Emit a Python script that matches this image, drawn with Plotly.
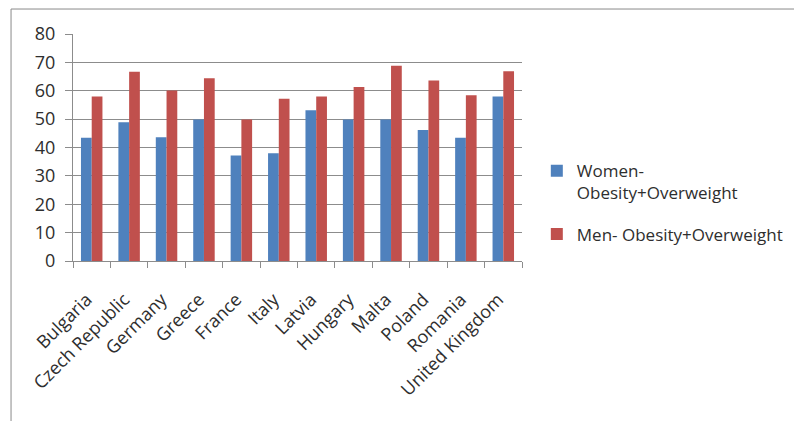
import plotly.graph_objects as go

countries = ["Bulgaria", "Czech Republic", "Germany", "Greece", "France", "Italy",
             "Latvia", "Hungary", "Malta", "Poland", "Romania", "United Kingdom"]
women = [43.4, 48.9, 43.6, 49.9, 37.2, 38.0, 53.1, 49.9, 49.9, 46.2, 43.4, 58.0]
men = [58.0, 66.7, 60.1, 64.4, 49.9, 57.2, 58.0, 61.3, 68.8, 63.6, 58.4, 66.9]

FONT = "Open Sans"
TEXT = "#2e2e2e"
GRID = "#8c8c8c"

fig = go.Figure()
fig.add_trace(go.Bar(x=countries, y=women, name="Women-<br>Obesity+Overweight",
                     marker=dict(color="#4F81BD", line=dict(width=0)),
                     legendgroup="w"))
fig.add_trace(go.Bar(x=countries, y=men, name="Men- Obesity+Overweight",
                     marker=dict(color="#C0504D", line=dict(width=0)),
                     legendgroup="m"))

fig.update_layout(
    width=794, height=421,
    margin=dict(l=73, r=272, t=34, b=160, autoexpand=False),
    paper_bgcolor="white", plot_bgcolor="white",
    barmode="group", bargap=0.426, bargroupgap=0,
    font=dict(family=FONT, size=17, color=TEXT),
    showlegend=True,
    legend=dict(x=1.033, y=0.475, xanchor="left", yanchor="top",
                traceorder="grouped", tracegroupgap=16, valign="top",
                font=dict(family=FONT, size=17, color=TEXT),
                bgcolor="rgba(0,0,0,0)"),
    xaxis=dict(type="category", showgrid=False, showline=True, linecolor=GRID,
               linewidth=1, ticks="outside", ticklen=6, tickcolor=GRID,
               tickson="boundaries", tickangle=-45,
               ticklabelstandoff=20, ticklabelshift=-5,
               tickfont=dict(family=FONT, size=18, color=TEXT)),
    yaxis=dict(range=[0, 80], dtick=10, showgrid=True, gridcolor=GRID,
               gridwidth=1, showline=True, linecolor=GRID, linewidth=1,
               ticks="outside", ticklen=7, tickcolor=GRID,
               ticklabelstandoff=6, zeroline=False,
               tickfont=dict(family=FONT, size=18, color=TEXT)),
    shapes=[dict(type="rect", xref="paper", yref="paper",
                 x0=-0.138, x1=1.65, y0=-0.75, y1=1.11,
                 line=dict(color="#8a8a8a", width=1), fillcolor="rgba(0,0,0,0)",
                 layer="below")],
)

fig.write_html("out.html")
